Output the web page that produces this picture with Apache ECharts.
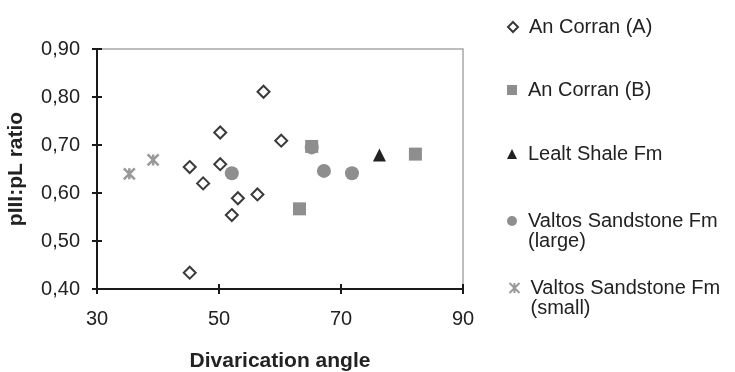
<!DOCTYPE html>
<html>
<head>
<meta charset="utf-8">
<script src="https://cdn.jsdelivr.net/npm/echarts@6/dist/echarts.min.js"></script>
<style>
  html, body { margin: 0; padding: 0; background: #fff; }
  #chart { width: 735px; height: 372px; }
</style>
</head>
<body>
<div id="chart"></div>
<script>
// values: [divarication angle, pIII:pL ratio]
const anCorranA = [
  [45.2, 0.434], [45.2, 0.654], [47.4, 0.62], [50.2, 0.726], [50.2, 0.66],
  [52.1, 0.554], [53.1, 0.589], [56.3, 0.597], [57.3, 0.811], [60.2, 0.709],
];
const anCorranB = [[63.2, 0.567], [65.2, 0.697], [82.2, 0.681]];
const lealtShale = [[76.3, 0.679]];
const valtosLarge = [[52.1, 0.641], [65.2, 0.695], [67.2, 0.646], [71.8, 0.641]];
const valtosSmall = [[35.3, 0.64], [39.2, 0.669]];

const seriesNames = [
  "An Corran (A)",
  "An Corran (B)",
  "Lealt Shale Fm",
  "Valtos Sandstone Fm (large)",
  "Valtos Sandstone Fm (small)",
];
const xTicks = [30, 50, 70, 90];
const yTicks = [0.4, 0.5, 0.6, 0.7, 0.8, 0.9];

const FONT = "Liberation Sans";
const starPath = "path://M0,0L10,10M10,0L0,10M5,0L5,10";

var myChart = echarts.init(document.getElementById("chart"));

// one legend per entry so each line sits where it does in the figure
const legendTops = [17, 80, 144, 191, 258];
const legends = seriesNames.map((name, i) => {
  const twoLine = name.indexOf("Valtos") === 0;
  return {
    data: [name],
    orient: "vertical",
    left: 507,
    top: legendTops[i],
    itemWidth: 10,
    itemHeight: 10,
    itemGap: 0,
    padding: 0,
    selectedMode: false,
    // blank first line keeps the marker level with the first text line
    formatter: (n) => (twoLine ? " \n" + n.replace(" (", "\n(") : n),
    textStyle: {
      fontFamily: FONT,
      fontSize: 20,
      color: "#222",
      lineHeight: 20,
      padding: [0, 0, 0, 6],
    },
  };
});

const axisText = { fontFamily: FONT, fontSize: 20, color: "#222" };

myChart.setOption({
  animation: false,
  legend: legends,
  grid: {
    left: 97,
    right: 272,
    top: 49,
    bottom: 83,
    outerBoundsMode: "none",
    show: true,
    borderColor: "#a8a8a8",
    borderWidth: 1.5,
  },
  xAxis: [
    {
      type: "value",
      min: xTicks[0],
      max: xTicks[xTicks.length - 1],
      interval: 20,
      name: "Divarication angle",
      nameLocation: "middle",
      nameGap: 62,
      nameTextStyle: { fontFamily: FONT, fontSize: 21, fontWeight: "bold", color: "#222" },
      splitLine: { show: false },
      axisLine: { lineStyle: { color: "#1a1a1a", width: 2 } },
      axisTick: { length: 5, lineStyle: { color: "#1a1a1a", width: 2 } },
      axisLabel: { ...axisText, margin: 20 },
    },
    {
      // inner half of the crossing ticks
      type: "value",
      min: xTicks[0],
      max: xTicks[xTicks.length - 1],
      interval: 20,
      offset: -240,
      splitLine: { show: false },
      axisLine: { show: false },
      axisTick: { length: 5, lineStyle: { color: "#1a1a1a", width: 2 } },
      axisLabel: { show: false },
    },
  ],
  yAxis: [
    {
      type: "value",
      min: yTicks[0],
      max: yTicks[yTicks.length - 1],
      interval: 0.1,
      name: "pIII:pL ratio",
      nameLocation: "middle",
      nameGap: 70,
      nameTextStyle: { fontFamily: FONT, fontSize: 21, fontWeight: "bold", color: "#222" },
      splitLine: { show: false },
      axisLine: { lineStyle: { color: "#1a1a1a", width: 2 } },
      axisTick: { length: 5, lineStyle: { color: "#1a1a1a", width: 2 } },
      axisLabel: {
        ...axisText,
        margin: 17,
        formatter: (v) => v.toFixed(2).replace(".", ","),
      },
    },
    {
      type: "value",
      min: yTicks[0],
      max: yTicks[yTicks.length - 1],
      interval: 0.1,
      offset: -366,
      splitLine: { show: false },
      axisLine: { show: false },
      axisTick: { length: 5, lineStyle: { color: "#1a1a1a", width: 2 } },
      axisLabel: { show: false },
    },
  ],
  series: [
    {
      name: seriesNames[0],
      type: "scatter",
      data: anCorranA,
      symbol: "diamond",
      symbolSize: 12,
      itemStyle: { color: "#fff", borderColor: "#3a3a3a", borderWidth: 2, opacity: 1 },
    },
    {
      name: seriesNames[1],
      type: "scatter",
      data: anCorranB,
      symbol: "rect",
      symbolSize: 13,
      itemStyle: { color: "#8e8e8e", opacity: 1 },
    },
    {
      name: seriesNames[2],
      type: "scatter",
      data: lealtShale,
      symbol: "triangle",
      symbolSize: 13,
      itemStyle: { color: "#222", opacity: 1 },
    },
    {
      name: seriesNames[3],
      type: "scatter",
      data: valtosLarge,
      symbol: "circle",
      symbolSize: 14,
      itemStyle: { color: "#8e8e8e", opacity: 1 },
    },
    {
      name: seriesNames[4],
      type: "scatter",
      data: valtosSmall,
      symbol: starPath,
      symbolSize: 11,
      itemStyle: { color: "none", borderColor: "#999", borderWidth: 2.5, opacity: 1 },
    },
  ],
});
</script>
</body>
</html>
